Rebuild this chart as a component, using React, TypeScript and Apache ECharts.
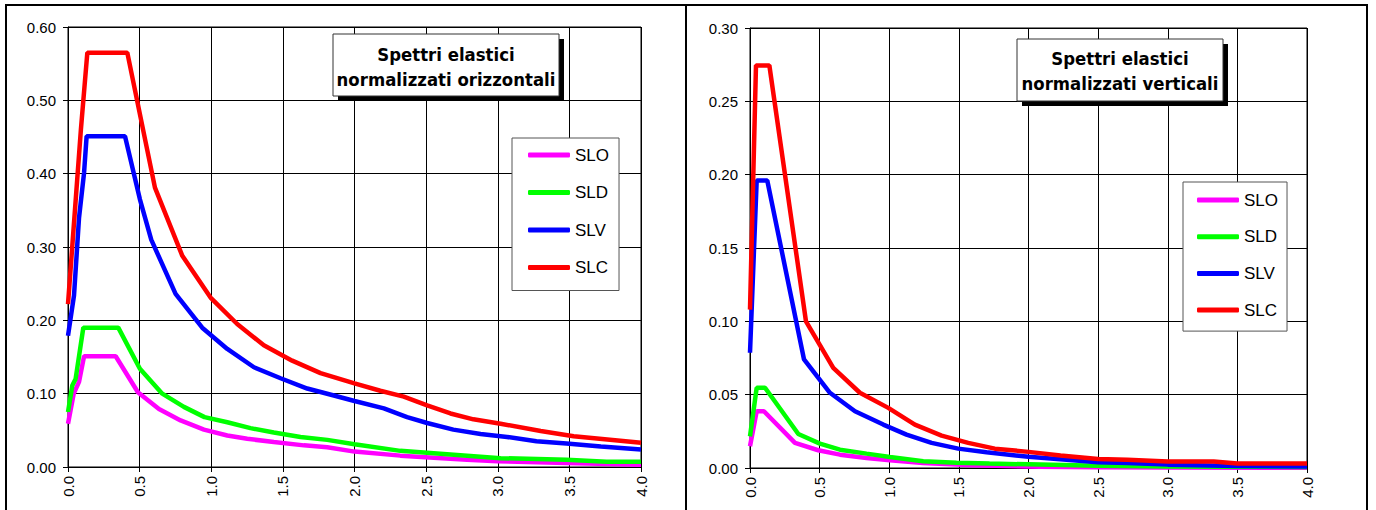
import React, { useEffect, useRef } from "react";
import * as echarts from "echarts";

// ---- data ----
const seriesNames = ["SLO", "SLD", "SLV", "SLC"];
const seriesColors = ["#FF00FF", "#00FF00", "#0000FF", "#FF0000"];

// Horizontal normalized elastic spectra: [T (s), Se (g)]
const hSLO: [number, number][] = [
  [0, 0.059], [0.04, 0.1], [0.077, 0.116], [0.112, 0.151], [0.333, 0.151],
  [0.488, 0.102], [0.635, 0.079], [0.786, 0.0635], [0.949, 0.051], [1.112, 0.043],
  [1.251, 0.0385], [1.437, 0.034], [1.647, 0.0295], [1.81, 0.027], [2.0, 0.021],
  [2.32, 0.0155], [2.786, 0.01], [3.0, 0.008], [3.48, 0.0055], [4.0, 0.003],
];
const hSLD: [number, number][] = [
  [0, 0.075], [0.03, 0.111], [0.053, 0.12], [0.107, 0.19], [0.351, 0.19],
  [0.502, 0.134], [0.658, 0.1], [0.809, 0.082], [0.953, 0.068], [1.112, 0.061],
  [1.274, 0.053], [1.437, 0.047], [1.623, 0.041], [1.81, 0.037], [2.0, 0.031],
  [2.32, 0.022], [2.786, 0.0155], [3.02, 0.012], [3.48, 0.01], [3.76, 0.007], [4.0, 0.007],
];
const hSLV: [number, number][] = [
  [0, 0.179], [0.042, 0.234], [0.077, 0.34], [0.112, 0.401], [0.13, 0.451],
  [0.398, 0.451], [0.502, 0.365], [0.581, 0.31], [0.751, 0.236], [0.937, 0.19],
  [1.112, 0.161], [1.298, 0.136], [1.484, 0.121], [1.67, 0.107], [1.856, 0.0975],
  [2.0, 0.09], [2.205, 0.08], [2.367, 0.068], [2.507, 0.06], [2.69, 0.051],
  [2.88, 0.045], [3.065, 0.041], [3.27, 0.035], [3.48, 0.032], [3.72, 0.028], [4.0, 0.024],
];
const hSLC: [number, number][] = [
  [0, 0.222], [0.09, 0.46], [0.135, 0.565], [0.414, 0.565], [0.607, 0.381],
  [0.798, 0.288], [0.995, 0.231], [1.181, 0.195], [1.367, 0.166], [1.565, 0.145],
  [1.763, 0.128], [2.0, 0.114], [2.18, 0.104], [2.344, 0.096], [2.507, 0.084],
  [2.67, 0.073], [2.83, 0.065], [3.02, 0.059], [3.3, 0.049], [3.53, 0.042], [4.0, 0.033],
];

// Vertical normalized elastic spectra: [T (s), Sve (g)]
const vSLO: [number, number][] = [
  [0, 0.0148], [0.048, 0.0387], [0.1, 0.0387], [0.323, 0.0171], [0.49, 0.0121],
  [0.646, 0.0091], [0.837, 0.0068], [1.005, 0.0052], [1.244, 0.0034], [1.6, 0.0018],
  [2.08, 0.0009], [2.5, 0.0005], [3.0, 0.0003], [4.0, 0.0002],
];
const vSLD: [number, number][] = [
  [0, 0.0216], [0.048, 0.0547], [0.108, 0.0547], [0.347, 0.0232], [0.502, 0.0166],
  [0.646, 0.0125], [0.837, 0.0098], [1.005, 0.0075], [1.244, 0.0046], [1.483, 0.0036],
  [1.72, 0.003], [2.0, 0.0025], [2.5, 0.0016], [3.0, 0.0011], [3.5, 0.0009], [4.0, 0.0007],
];
const vSLV: [number, number][] = [
  [0, 0.0786], [0.048, 0.196], [0.124, 0.196], [0.388, 0.074], [0.574, 0.0513],
  [0.754, 0.0387], [0.957, 0.0296], [1.124, 0.0228], [1.304, 0.0171], [1.495, 0.0132],
  [1.699, 0.0107], [2.0, 0.0076], [2.5, 0.0039], [2.71, 0.0034], [3.0, 0.0023],
  [3.5, 0.0014], [4.0, 0.0011],
];
const vSLC: [number, number][] = [
  [0, 0.108], [0.043, 0.2745], [0.139, 0.2745], [0.402, 0.1], [0.598, 0.0683],
  [0.789, 0.0513], [0.993, 0.041], [1.184, 0.0296], [1.376, 0.0221], [1.567, 0.0171],
  [1.758, 0.0132], [2.0, 0.011], [2.23, 0.0085], [2.5, 0.0062], [2.71, 0.0057],
  [3.0, 0.0044], [3.33, 0.0044], [3.5, 0.003], [4.0, 0.003],
];

const xMin = 0;
const xMax = 4;
const xStep = 0.5;
const hYMax = 0.6;
const hYStep = 0.1;
const vYMax = 0.3;
const vYStep = 0.05;

const hTitle = ["Spettri elastici", "normalizzati orizzontali"];
const vTitle = ["Spettri elastici", "normalizzati verticali"];

const FONT = "Liberation Sans";
const TITLE_FONT = "DejaVu Sans";
const GRID_COLOR = "#000";

function makeXAxis(gridIndex: number) {
  return {
    gridIndex,
    type: "value",
    min: xMin,
    max: xMax,
    interval: xStep,
    axisLine: { show: true, onZero: false, lineStyle: { color: "#000", width: 1 } },
    axisTick: { show: true, length: 5, lineStyle: { color: "#000" } },
    axisLabel: {
      rotate: 90,
      margin: 9,
      fontSize: 15,
      fontFamily: FONT,
      color: "#000",
      formatter: (v: number) => v.toFixed(1),
    },
    splitLine: { show: true, lineStyle: { color: GRID_COLOR, width: 1 } },
  };
}

function makeYAxis(gridIndex: number, max: number, step: number) {
  return {
    gridIndex,
    type: "value",
    min: 0,
    max,
    interval: step,
    axisLine: { show: true, onZero: false, lineStyle: { color: "#000", width: 1 } },
    axisTick: { show: true, length: 5, lineStyle: { color: "#000" } },
    axisLabel: {
      margin: 12,
      fontSize: 15,
      fontFamily: FONT,
      color: "#000",
      formatter: (v: number) => v.toFixed(2),
    },
    splitLine: { show: true, lineStyle: { color: GRID_COLOR, width: 1 } },
  };
}

function makeSeries(gridIndex: number, datasets: [number, number][][]) {
  return datasets.map((d, i) => ({
    type: "line",
    name: seriesNames[i],
    xAxisIndex: gridIndex,
    yAxisIndex: gridIndex,
    data: d,
    symbol: "none",
    showSymbol: false,
    clip: false,
    lineStyle: { width: 4.5, color: seriesColors[i] },
    itemStyle: { color: seriesColors[i] },
    z: 3 + i,
  }));
}

function makeLegend(left: number, top: number, gap: number, padding: number[]) {
  return {
    data: seriesNames,
    orient: "vertical",
    left,
    top,
    icon: "roundRect",
    itemWidth: 42,
    itemHeight: 5,
    itemGap: gap,
    padding,
    backgroundColor: "#fff",
    borderColor: "#555",
    borderWidth: 1,
    borderRadius: 0,
    selectedMode: false,
    textStyle: { fontSize: 17, fontFamily: FONT, color: "#000", lineHeight: 18 },
    z: 20,
  };
}

function titleBox(x: number, y: number, w: number, h: number, lines: string[], y1: number, y2: number) {
  const cx = x + w / 2;
  const textStyle = {
    fill: "#000",
    fontSize: 18,
    fontWeight: "bold",
    fontFamily: TITLE_FONT,
    align: "center",
    verticalAlign: "middle",
  };
  return [
    { type: "rect", shape: { x: x + 5, y: y + 5, width: w, height: h }, style: { fill: "#000" }, z: 30 },
    { type: "rect", shape: { x, y, width: w, height: h }, style: { fill: "#fff", stroke: "#333", lineWidth: 1 }, z: 31 },
    { type: "text", x: cx, y: y1, scaleX: 0.92, z: 32, style: { ...textStyle, text: lines[0] } },
    { type: "text", x: cx, y: y2, scaleX: 0.92, z: 32, style: { ...textStyle, text: lines[1] } },
  ];
}

export default function App() {
  const ref = useRef<HTMLDivElement>(null);

  useEffect(() => {
    if (!ref.current) return;
    const chart = echarts.init(ref.current, undefined, { renderer: "svg" });
    const frame = { stroke: "#000", lineWidth: 2 };
    const option = {
      animation: false,
      backgroundColor: "#fff",
      grid: [
        { left: 68, top: 27, width: 573, height: 440, show: true, borderColor: GRID_COLOR, borderWidth: 1, backgroundColor: "#fff" },
        { left: 750, top: 28, width: 557, height: 440, show: true, borderColor: GRID_COLOR, borderWidth: 1, backgroundColor: "#fff" },
      ],
      xAxis: [makeXAxis(0), makeXAxis(1)],
      yAxis: [makeYAxis(0, hYMax, hYStep), makeYAxis(1, vYMax, vYStep)],
      legend: [
        makeLegend(512, 138, 19.5, [8, 10, 14, 16]),
        makeLegend(1183, 182, 18.7, [9, 9, 12, 14]),
      ],
      series: [
        ...makeSeries(0, [hSLO, hSLD, hSLV, hSLC]),
        ...makeSeries(1, [vSLO, vSLD, vSLV, vSLC]),
      ],
      graphic: {
        elements: [
          { type: "line", shape: { x1: 5, y1: 5, x2: 1368, y2: 5 }, style: frame, z: 40 },
          { type: "line", shape: { x1: 6, y1: 4, x2: 6, y2: 520 }, style: frame, z: 40 },
          { type: "line", shape: { x1: 686, y1: 4, x2: 686, y2: 520 }, style: frame, z: 40 },
          { type: "line", shape: { x1: 1367, y1: 4, x2: 1367, y2: 520 }, style: frame, z: 40 },
          ...titleBox(333, 34, 226, 62, hTitle, 54.5, 79.5),
          ...titleBox(1017, 39, 206, 62, vTitle, 59, 84),
        ],
      },
    };
    chart.setOption(option as any);
    return () => chart.dispose();
  }, []);

  return (
    <div
      ref={ref}
      style={{ position: "fixed", left: 0, top: 0, width: 1376, height: 510, background: "#fff" }}
    />
  );
}
